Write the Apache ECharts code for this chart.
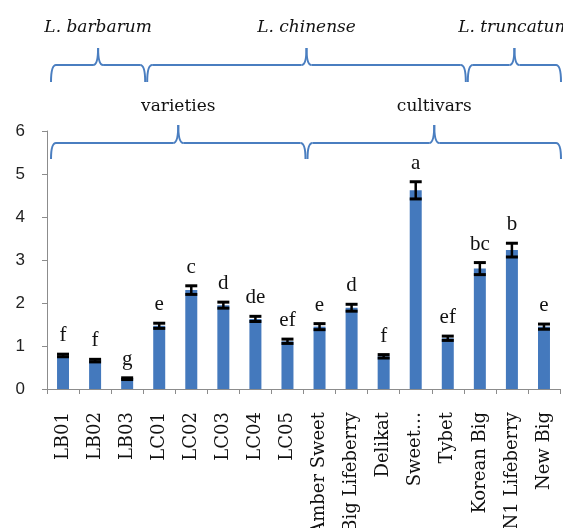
<!DOCTYPE html>
<html>
<head>
<meta charset="utf-8">
<script src="https://cdn.jsdelivr.net/npm/echarts@6/dist/echarts.min.js"></script>
<style>
  html, body { margin: 0; padding: 0; background: #fff; }
  #chart { width: 563px; height: 528px; }
</style>
</head>
<body>
<div id="chart"></div>
<script>
// samples along the x axis
const categories = ['LB01', 'LB02', 'LB03', 'LC01', 'LC02', 'LC03', 'LC04', 'LC05',
  'Amber Sweet', 'Big Lifeberry', 'Delikat', 'Sweet…', 'Tybet', 'Korean Big', 'N1 Lifeberry', 'New Big']
const values = [0.78, 0.66, 0.24, 1.47, 2.30, 1.95, 1.63, 1.11, 1.45, 1.89, 0.76, 4.62, 1.18, 2.80, 3.23, 1.45]
const errors = [0.03, 0.03, 0.02, 0.06, 0.10, 0.07, 0.06, 0.05, 0.07, 0.08, 0.04, 0.20, 0.05, 0.14, 0.16, 0.06]
const letters = ['f', 'f', 'g', 'e', 'c', 'd', 'de', 'ef', 'e', 'd', 'f', 'a', 'ef', 'bc', 'b', 'e']
const yTicks = [0, 1, 2, 3, 4, 5, 6]

// bracket groups (first / last category index)
const speciesNames = ['L. barbarum', 'L. chinense', 'L. truncatum']
const speciesFrom = [0, 3, 13]
const speciesTo = [2, 12, 15]
const typeNames = ['varieties', 'cultivars']
const typeFrom = [0, 8]
const typeTo = [7, 15]

const blue = '#4479BD'
const braceColor = '#4A7EC0'
const axisGray = '#8c8c8c'
const serif = 'DejaVu Serif'

let chart = echarts.init(document.getElementById('chart'))

chart.setOption({
  animation: false,
  grid: { left: 47, right: 3, top: 131, bottom: 139, outerBoundsMode: 'none' },
  xAxis: {
    type: 'category',
    data: categories,
    boundaryGap: true,
    axisLine: { lineStyle: { color: axisGray, width: 1 } },
    axisTick: { show: true, length: 5, lineStyle: { color: axisGray } },
    axisLabel: {
      rotate: 90,
      interval: 0,
      margin: 23,
      color: '#111',
      fontFamily: serif,
      fontSize: 18
    }
  },
  yAxis: {
    type: 'value',
    min: yTicks[0],
    max: yTicks[yTicks.length - 1],
    interval: 1,
    splitLine: { show: false },
    axisLine: { show: true, lineStyle: { color: axisGray, width: 1 } },
    axisTick: { show: true, length: 5, lineStyle: { color: axisGray } },
    axisLabel: {
      margin: 22,
      color: '#222',
      fontFamily: 'Liberation Sans',
      fontSize: 17
    }
  },
  series: [
    {
      type: 'bar',
      data: values,
      barWidth: 12,
      itemStyle: { color: blue }
    },
    {
      type: 'custom',
      data: values.map((v, i) => [i, v, errors[i]]),
      z: 5,
      renderItem(params, api) {
        let i = api.value(0)
        let v = api.value(1)
        let e = api.value(2)
        let hi = api.coord([i, v + e])
        let lo = api.coord([i, v - e])
        let hw = 6
        return {
          type: 'group',
          children: [
            { type: 'line', shape: { x1: hi[0], y1: hi[1], x2: lo[0], y2: lo[1] }, style: { stroke: '#000', lineWidth: 2.5 } },
            { type: 'line', shape: { x1: hi[0] - hw, y1: hi[1], x2: hi[0] + hw, y2: hi[1] }, style: { stroke: '#000', lineWidth: 3 } },
            { type: 'line', shape: { x1: lo[0] - hw, y1: lo[1], x2: lo[0] + hw, y2: lo[1] }, style: { stroke: '#000', lineWidth: 3 } },
            {
              type: 'text',
              style: {
                text: letters[params.dataIndex],
                x: hi[0],
                y: hi[1] - 8,
                align: 'center',
                verticalAlign: 'bottom',
                fill: '#111',
                font: '21px "Liberation Serif"'
              }
            }
          ]
        }
      }
    }
  ]
})

// curly bracket pointing up, between x0 and x1, built from lines and curves
function braceParts(x0, x1, yLine, yPeak, yEnd) {
  let r = 5
  let mid = (x0 + x1) / 2
  let st = { stroke: braceColor, lineWidth: 2, fill: null }
  return [
    { type: 'bezierCurve', shape: { x1: x0, y1: yEnd, x2: x0 + r, y2: yLine, cpx1: x0, cpy1: yLine }, style: st },
    { type: 'line', shape: { x1: x0 + r, y1: yLine, x2: mid - r, y2: yLine }, style: st },
    { type: 'bezierCurve', shape: { x1: mid - r, y1: yLine, x2: mid, y2: yPeak, cpx1: mid, cpy1: yLine }, style: st },
    { type: 'bezierCurve', shape: { x1: mid, y1: yPeak, x2: mid + r, y2: yLine, cpx1: mid, cpy1: yLine }, style: st },
    { type: 'line', shape: { x1: mid + r, y1: yLine, x2: x1 - r, y2: yLine }, style: st },
    { type: 'bezierCurve', shape: { x1: x1 - r, y1: yLine, x2: x1, y2: yEnd, cpx1: x1, cpy1: yLine }, style: st }
  ]
}

function buildBraces(names, from, to, yLine, yPeak, yEnd, yText, italic) {
  let c0 = chart.convertToPixel({ xAxisIndex: 0 }, 0)
  let c1 = chart.convertToPixel({ xAxisIndex: 0 }, 1)
  let half = (c1 - c0) / 2
  let out = []
  names.forEach((name, k) => {
    let x0 = chart.convertToPixel({ xAxisIndex: 0 }, from[k]) - half + 4
    let x1 = Math.min(chart.convertToPixel({ xAxisIndex: 0 }, to[k]) + half + 2, 561)
    out.push(...braceParts(x0, x1, yLine, yPeak, yEnd))
    out.push({
      type: 'text',
      x: (x0 + x1) / 2,
      y: yText,
      style: {
        text: name,
        align: 'center',
        verticalAlign: 'middle',
        fill: '#111',
        font: (italic ? 'italic ' : '') + '17px "' + serif + '"'
      }
    })
  })
  return out
}

chart.setOption({
  graphic: [
    ...buildBraces(speciesNames, speciesFrom, speciesTo, 65, 48, 82, 28, true),
    ...buildBraces(typeNames, typeFrom, typeTo, 143, 125, 159, 107, false)
  ]
})
</script>
</body>
</html>
